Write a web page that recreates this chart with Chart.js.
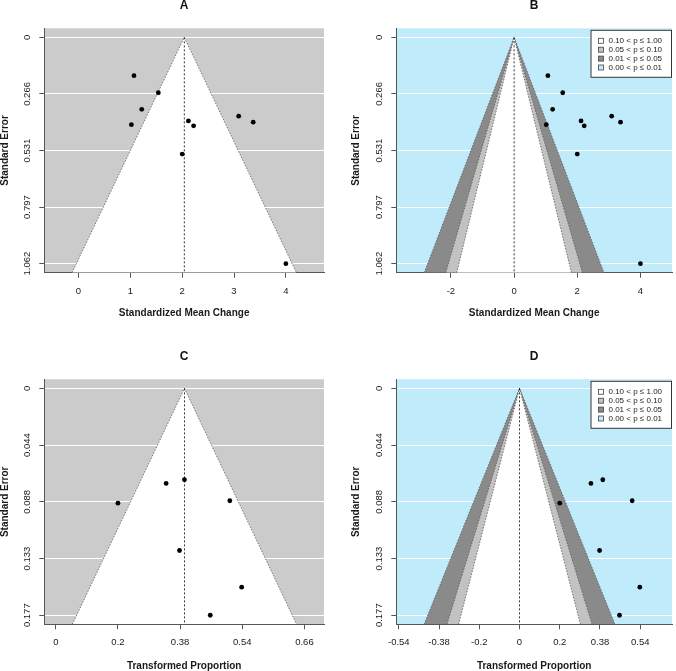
<!DOCTYPE html>
<html>
<head>
<meta charset="utf-8">
<script src="https://cdn.jsdelivr.net/npm/chart.js@4.4.1/dist/chart.umd.min.js"></script>
<style>
  html, body { margin: 0; padding: 0; background: #ffffff; overflow: hidden; }
  #page { position: relative; width: 676px; height: 671px; }
  canvas { position: absolute; }
</style>
</head>
<body>
<div id="page">
  <canvas id="panelA" width="338" height="335" style="left:0;top:0"></canvas>
  <canvas id="panelB" width="338" height="335" style="left:338px;top:0"></canvas>
  <canvas id="panelC" width="338" height="336" style="left:0;top:335px"></canvas>
  <canvas id="panelD" width="338" height="336" style="left:338px;top:335px"></canvas>
</div>
<script>
// standardized mean change studies (panels A and B)
const smcEstimates = [1.07, 1.54, 1.22, 1.02, 2.12, 2.22, 2.00, 3.09, 3.37, 4.00];
const smcStdErrors = [0.18, 0.26, 0.338, 0.41, 0.392, 0.415, 0.548, 0.37, 0.398, 1.062];
const smcPooled = 2.04;
const smcSEMax = 1.062;
const smcSETicks = [0, 0.2655, 0.531, 0.7965, 1.062];
const smcSELabels = ['0', '0.266', '0.531', '0.797', '1.062'];
const smcTicksA = [0, 1, 2, 3, 4];
const smcLabelsA = ['0', '1', '2', '3', '4'];
const smcTicksB = [-2, 0, 2, 4];
const smcLabelsB = ['-2', '0', '2', '4'];

// transformed proportion studies (panels C and D)
const propEstimates = [0.2, 0.355, 0.414, 0.56, 0.398, 0.598, 0.497];
const propStdErrors = [0.0896, 0.0742, 0.0713, 0.0877, 0.1265, 0.1551, 0.177];
const propPooled = 0.414;
const propSEMax = 0.177;
const propSETicks = [0, 0.04425, 0.0885, 0.13275, 0.177];
const propSELabels = ['0', '0.044', '0.088', '0.133', '0.177'];
const propTicksC = [0, 0.2, 0.4, 0.6, 0.8];
const propLabelsC = ['0', '0.2', '0.38', '0.54', '0.66'];
const propTicksD = [-0.6, -0.4, -0.2, 0, 0.2, 0.4, 0.6];
const propLabelsD = ['-0.54', '-0.38', '-0.2', '0', '0.2', '0.38', '0.54'];

const legendLabels = ['0.10 < p \u2264 1.00', '0.05 < p \u2264 0.10', '0.01 < p \u2264 0.05', '0.00 < p \u2264 0.01'];

const GRAY_BG = '#cbcbcb';
const BLUE_BG = '#bfebfa';
const LIGHT_SHADE = '#c2c2c2';
const DARK_SHADE = '#8a8a8a';
const EDGE_COLOR = '#555555';
const AXIS_COLOR = '#555555';
const TEXT_COLOR = '#1a1a1a';

const LEGEND_COLORS = ['#ffffff', LIGHT_SHADE, DARK_SHADE, BLUE_BG];

// outer to inner: 99%, 95%, 90%
const CONTOURS = [
  { z: 2.576, color: DARK_SHADE },
  { z: 1.96, color: LIGHT_SHADE },
  { z: 1.645, color: '#ffffff' },
];
const PLAIN_FUNNEL = [{ z: 1.96, color: '#ffffff' }];

Chart.defaults.font.family = '"Liberation Sans", Arial, sans-serif';
Chart.defaults.color = TEXT_COLOR;

const plotBackground = {
  id: 'plotBackground',
  beforeDraw(chart, args, opts) {
    const { ctx, chartArea } = chart;
    ctx.save();
    ctx.fillStyle = opts.color;
    ctx.fillRect(chartArea.left, chartArea.top, chartArea.width, chartArea.height);
    ctx.restore();
  },
};

const contourLegend = {
  id: 'contourLegend',
  afterDatasetsDraw(chart, args, opts) {
    if (!opts.show) return;
    const { ctx, chartArea } = chart;
    const boxW = 81.5;
    const boxH = 48;
    const boxX = chartArea.right - boxW;
    const boxY = chartArea.top + 1.5;

    ctx.save();
    ctx.fillStyle = '#ffffff';
    ctx.fillRect(boxX, boxY, boxW, boxH);
    ctx.strokeStyle = '#333333';
    ctx.lineWidth = 1;
    ctx.strokeRect(boxX + 0.5, boxY + 0.5, boxW - 1, boxH - 1);

    ctx.font = '8px "Liberation Sans", Arial, sans-serif';
    ctx.textBaseline = 'middle';
    ctx.textAlign = 'left';
    legendLabels.forEach((label, i) => {
      const rowY = boxY + 11 + i * 8.9;
      ctx.fillStyle = LEGEND_COLORS[i];
      ctx.fillRect(boxX + 8, rowY - 2.5, 5, 5);
      ctx.strokeStyle = '#444444';
      ctx.lineWidth = 0.8;
      ctx.strokeRect(boxX + 8, rowY - 2.5, 5, 5);
      ctx.fillStyle = TEXT_COLOR;
      ctx.fillText(label, boxX + 18, rowY);
    });
    ctx.restore();
  },
};

const renderFunnel = (panel) => {
  const seBottom = panel.seMax * 1.04;
  const seTop = -panel.seMax * 0.04;

  const contourSets = panel.contours.map((contour, i) => ({
    data: [
      { x: panel.pooled - contour.z * seBottom, y: seBottom },
      { x: panel.pooled, y: 0 },
      { x: panel.pooled + contour.z * seBottom, y: seBottom },
    ],
    backgroundColor: contour.color,
    borderColor: EDGE_COLOR,
    borderWidth: 0.8,
    borderDash: [1.5, 1.5],
    fill: { value: seBottom },
    pointRadius: 0,
    tension: 0,
    order: 2 + (panel.contours.length - 1 - i),
  }));

  const refLine = {
    data: [{ x: panel.pooled, y: 0 }, { x: panel.pooled, y: seBottom }],
    borderColor: '#000000',
    borderWidth: 0.8,
    borderDash: [2, 2],
    pointRadius: 0,
    fill: false,
    order: 1,
  };

  const studies = {
    data: panel.estimates.map((est, i) => ({ x: est, y: panel.stdErrors[i] })),
    showLine: false,
    pointRadius: 2.4,
    pointBackgroundColor: '#000000',
    pointBorderColor: '#000000',
    pointBorderWidth: 0,
    order: 0,
  };

  const SCALES = {
    x: {
      type: 'linear',
      min: panel.xMin,
      max: panel.xMax,
      afterBuildTicks: (scale) => {
        scale.ticks = panel.xTicks.map((v) => ({ value: v }));
      },
      afterFit: (scale) => {
        scale.height = panel.xHeight;
      },
      ticks: {
        callback: (_, index) => panel.xLabels[index],
        autoSkip: false,
        maxRotation: 0,
        padding: 7.5,
        font: { size: 9.5 },
      },
      grid: {
        drawOnChartArea: false,
        drawTicks: true,
        tickLength: 5,
        tickColor: AXIS_COLOR,
      },
      border: { color: AXIS_COLOR, width: 1 },
      title: {
        display: true,
        text: panel.xTitle,
        font: { size: 10, weight: 'bold', lineHeight: 1 },
        padding: { top: 0, bottom: panel.xTitlePad },
      },
    },
    y: {
      type: 'linear',
      reverse: true,
      min: seTop,
      max: seBottom,
      afterBuildTicks: (scale) => {
        scale.ticks = panel.seTicks.map((v) => ({ value: v }));
      },
      afterFit: (scale) => {
        scale.width = panel.yWidth;
      },
      ticks: {
        callback: (_, index) => panel.seLabels[index],
        autoSkip: false,
        minRotation: 90,
        maxRotation: 90,
        crossAlign: 'center',
        padding: 0,
        font: { size: 9.5 },
      },
      grid: {
        color: '#ffffff',
        lineWidth: 1,
        drawTicks: true,
        tickLength: 5,
        tickColor: AXIS_COLOR,
      },
      border: { color: AXIS_COLOR, width: 1 },
      title: {
        display: true,
        text: 'Standard Error',
        font: { size: 10, weight: 'bold', lineHeight: 1 },
        padding: { top: panel.yTitlePad, bottom: 0 },
      },
    },
  };

  const PLUGINS = {
    legend: { display: false },
    tooltip: { enabled: false },
    title: {
      display: true,
      text: panel.title,
      fullSize: false,
      color: '#111111',
      font: { size: 12, weight: 'bold', lineHeight: 1 },
      padding: { top: panel.titleTop, bottom: panel.titleBottom },
    },
    plotBackground: { color: panel.background },
    contourLegend: { show: panel.showLegend },
  };

  return new Chart(document.getElementById(panel.id), {
    type: 'line',
    data: { datasets: [...contourSets, refLine, studies] },
    options: {
      responsive: false,
      animation: false,
      events: [],
      layout: { padding: { left: 0, top: 0, bottom: 0, right: panel.rightPad } },
      scales: SCALES,
      plugins: PLUGINS,
    },
    plugins: [plotBackground, contourLegend],
  });
};

renderFunnel({
  id: 'panelA', title: 'A',
  estimates: smcEstimates, stdErrors: smcStdErrors, pooled: smcPooled,
  seMax: smcSEMax, seTicks: smcSETicks, seLabels: smcSELabels,
  xMin: -0.66, xMax: 4.736, xTicks: smcTicksA, xLabels: smcLabelsA,
  xTitle: 'Standardized Mean Change',
  contours: PLAIN_FUNNEL, background: GRAY_BG, showLegend: false,
  yWidth: 44.3, yTitlePad: 0, xHeight: 62.3, xTitlePad: 16.7,
  titleTop: 0, titleBottom: 16.3, rightPad: 14,
});

renderFunnel({
  id: 'panelB', title: 'B',
  estimates: smcEstimates, stdErrors: smcStdErrors, pooled: 0,
  seMax: smcSEMax, seTicks: smcSETicks, seLabels: smcSELabels,
  xMin: -3.73, xMax: 5.0, xTicks: smcTicksB, xLabels: smcLabelsB,
  xTitle: 'Standardized Mean Change',
  contours: CONTOURS, background: BLUE_BG, showLegend: true,
  yWidth: 58.3, yTitlePad: 13.3, xHeight: 62.3, xTitlePad: 16.7,
  titleTop: 0, titleBottom: 16.3, rightPad: 0,
});

renderFunnel({
  id: 'panelC', title: 'C',
  estimates: propEstimates, stdErrors: propStdErrors, pooled: propPooled,
  seMax: propSEMax, seTicks: propSETicks, seLabels: propSELabels,
  xMin: -0.037, xMax: 0.863, xTicks: propTicksC, xLabels: propLabelsC,
  xTitle: 'Transformed Proportion',
  contours: PLAIN_FUNNEL, background: GRAY_BG, showLegend: false,
  yWidth: 44.3, yTitlePad: 0, xHeight: 46.7, xTitlePad: 0,
  titleTop: 15.7, titleBottom: 16.6, rightPad: 14,
});

renderFunnel({
  id: 'panelD', title: 'D',
  estimates: propEstimates, stdErrors: propStdErrors, pooled: 0,
  seMax: propSEMax, seTicks: propSETicks, seLabels: propSELabels,
  xMin: -0.6125, xMax: 0.758, xTicks: propTicksD, xLabels: propLabelsD,
  xTitle: 'Transformed Proportion',
  contours: CONTOURS, background: BLUE_BG, showLegend: true,
  yWidth: 58.3, yTitlePad: 13.3, xHeight: 46.7, xTitlePad: 0,
  titleTop: 15.7, titleBottom: 16.6, rightPad: 0,
});
</script>
</body>
</html>
